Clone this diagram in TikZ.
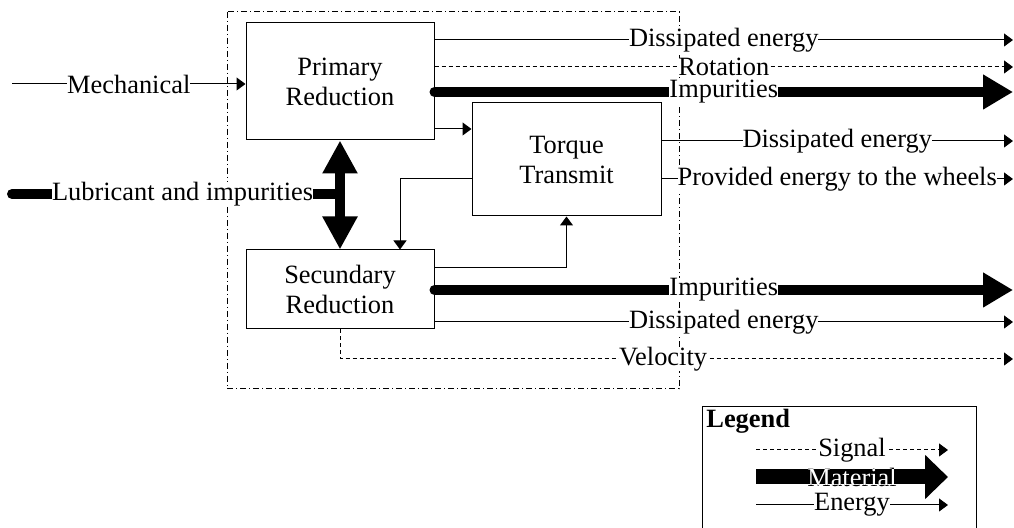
\documentclass[tikz,border=0pt]{standalone}
\usepackage{fontspec}
\setmainfont{Liberation Serif}
\usetikzlibrary{arrows.meta}

\begin{document}
\begin{tikzpicture}[x=0.5pt,y=-0.5pt,
  font=\fontsize{13.2}{15}\selectfont,
  block/.style={draw, line width=0.5pt, align=center, inner sep=0pt},
  lbl/.style={fill=white, inner sep=0pt},
  energy/.style={line width=0.5pt, -{Triangle[length=4.5pt,width=6.5pt]}},
  signal/.style={energy, dash pattern=on 2pt off 1.5pt},
  material/.style={line width=5pt, line cap=round, -{Triangle[length=15pt,width=16.5pt]}},
  frame/.style={line width=0.5pt, dash pattern=on 3pt off 1.5pt on 0.5pt off 1.5pt}]
	\useasboundingbox (0,0) rectangle (1014,528);
	
	% system border
	\draw[frame] (227,12) rectangle (679,389);
	
	% blocks
	\node[block, minimum width=94pt, minimum height=58.5pt] (pri) at (340,81.5) {Primary\\Reduction};
	\node[block, minimum width=94.5pt, minimum height=56.5pt] (tor) at (566.5,159.5) {Torque\\Transmit};
	\node[block, minimum width=94pt, minimum height=39.5pt] (sec) at (340,289.5) {Secundary\\Reduction};
	
	% free ends
	\coordinate (mech) at (12,84);
	\coordinate (lub) at (12,194);
	\coordinate (dis1) at (1013,40);
	\coordinate (rot) at (1013,67);
	\coordinate (imp1) at (1013,92);
	\coordinate (dis2) at (1013,141);
	\coordinate (whl) at (1013,179);
	\coordinate (imp2) at (1013,290);
	\coordinate (dis3) at (1013,322);
	\coordinate (vel) at (1013,359);
	
	% inputs
	\draw[energy] (mech) -- node[lbl]{Mechanical} (pri.west |- mech);
	\draw[material, -] (lub) -- node[lbl, pos=0.52]{Lubricant and impurities} (pri.south |- lub);
	\draw[material, line cap=butt, {Triangle[length=16.5pt,width=16.5pt]}-{Triangle[length=16.5pt,width=16.5pt]}] (pri.south) -- (sec.north);
	
	% primary reduction
	\draw[energy] (pri.east |- dis1) -- node[lbl]{Dissipated energy} (dis1);
	\draw[signal] (pri.east |- rot) -- node[lbl]{Rotation} (rot);
	\draw[material] (pri.east |- imp1) -- node[lbl]{Impurities} (imp1);
	\draw[energy] ([yshift=-23.75pt]pri.east) -- ([yshift=15.25pt]tor.west);
	
	% torque transmit
	\draw[energy] (tor.east |- dis2) -- node[lbl]{Dissipated energy} (dis2);
	\draw[energy] (tor.east |- whl) -- node[lbl]{Provided energy to the wheels} (whl);
	\draw[energy] (tor.west |- whl) -| ([xshift=30pt]sec.north);
	
	% secundary reduction
	\draw[energy] ([yshift=10.75pt]sec.east) -| (tor.south);
	\draw[material] (sec.east |- imp2) -- node[lbl]{Impurities} (imp2);
	\draw[energy] (sec.east |- dis3) -- node[lbl]{Dissipated energy} (dis3);
	\draw[signal] (sec.south) |- node[lbl, pos=0.74]{Velocity} (vel);
	
	% legend
	\draw[line width=0.5pt] (702,540) |- (976,407) -- (976,540);
	\node[font=\fontsize{13.2}{15}\selectfont\bfseries, anchor=west, inner sep=0pt] (leg) at (706,421) {Legend};
	\coordinate (sg1) at (756,450);
	\coordinate (sg2) at (948,450);
	\coordinate (mt1) at (756,477);
	\coordinate (mt2) at (948,477);
	\coordinate (en1) at (756,505);
	\coordinate (en2) at (948,505);
	\draw[signal] (sg1) -- node[lbl]{Signal} (sg2);
	\draw[line width=7.5pt, -{Triangle[length=11.5pt,width=21.5pt]}] (mt1) -- node[inner sep=0pt] (mat) {Material} (mt2);
	\begin{scope}
		\clip ([yshift=3.75pt]mt1) rectangle ([yshift=-3.75pt]mt2);
		\node[text=white, inner sep=0pt] at (mat) {Material};
	\end{scope}
	\draw[energy] (en1) -- node[lbl]{Energy} (en2);
\end{tikzpicture}
\end{document}
